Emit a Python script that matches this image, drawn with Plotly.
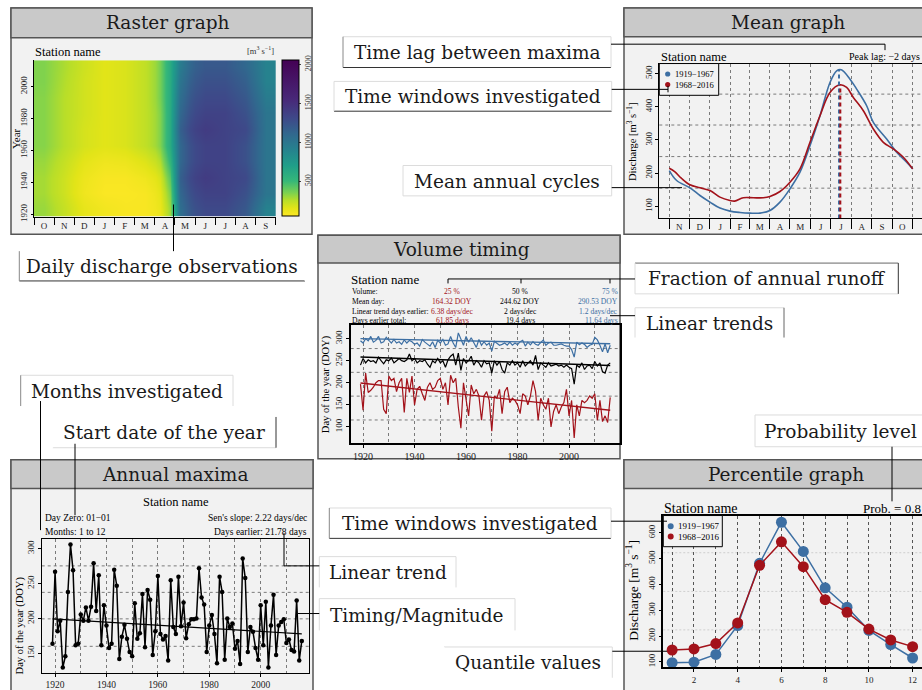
import plotly.graph_objects as go

W, H = 922, 690
SERIF = "Liberation Serif"
DEJAVU = "DejaVu Serif"
BLUE = "#3d6fa3"
RED = "#a3121a"

# ---------------- data ----------------
# Raster graph (hydrological year Oct-Sep), decade blocks, m3/s
raster_months = ["O", "N", "D", "J", "F", "M", "A", "M", "J", "J", "A", "S"]
raster_col_edges = [0, 1, 2, 3, 4, 5, 6, 6.5, 7, 7.5, 8, 9, 10, 11, 12]   # April and May split in halves
raster_year_edges = [1918.5, 1928.5, 1938.5, 1948.5, 1958.5, 1968.5, 1978.5, 1988.5, 1998.5, 2008.5, 2016.5]
raster_z = [
    [300, 220, 130, 90, 70, 70, 120, 300, 1050, 1200, 1300, 1300, 1200, 900],
    [280, 200, 100, 60, 60, 70, 140, 350, 1100, 1250, 1350, 1350, 1250, 1000],
    [280, 200, 110, 70, 70, 100, 180, 420, 1150, 1300, 1400, 1350, 1300, 1000],
    [300, 220, 140, 100, 110, 160, 260, 520, 1100, 1250, 1350, 1350, 1250, 1000],
    [330, 250, 180, 150, 170, 230, 340, 600, 1100, 1250, 1350, 1350, 1250, 1000],
    [330, 250, 180, 150, 170, 230, 340, 600, 1150, 1300, 1400, 1350, 1300, 1000],
    [330, 250, 190, 150, 170, 230, 340, 600, 1100, 1250, 1350, 1350, 1250, 1000],
    [330, 250, 190, 150, 170, 230, 360, 600, 1050, 1200, 1300, 1300, 1200, 950],
    [340, 260, 190, 150, 170, 230, 360, 600, 1000, 1150, 1250, 1250, 1150, 900],
    [340, 270, 200, 150, 170, 230, 360, 600, 950, 1100, 1200, 1200, 1100, 900],
]
raster_ticks = [1920, 1940, 1960, 1980, 2000]
colorbar_ticks = [500, 1000, 1500, 2000]

# Mean graph (day counted from 1 Nov)
mean_months = ["N", "D", "J", "F", "M", "A", "M", "J", "J", "A", "S", "O"]
month_lengths = [30, 31, 31, 28, 31, 30, 31, 30, 31, 31, 30, 31]
mean_days_early = [0, 11, 31, 46, 61, 76, 91, 106, 121, 136, 151, 166, 181, 196, 211, 226, 241, 251, 258, 271, 281, 296, 306, 326, 341, 356, 365]
mean_early = [208, 178, 156, 133, 113, 95, 86, 82, 80, 80, 88, 113, 153, 203, 283, 373, 473, 508, 511, 483, 453, 403, 353, 303, 263, 233, 213]
mean_days_late = [0, 8, 18, 31, 46, 61, 76, 91, 98, 111, 126, 141, 151, 166, 181, 196, 211, 226, 241, 256, 266, 276, 291, 306, 321, 336, 351, 365]
mean_late = [215, 205, 185, 165, 156, 148, 128, 118, 116, 126, 126, 126, 130, 145, 173, 213, 293, 373, 443, 466, 458, 428, 388, 333, 293, 273, 248, 213]
peak_days = [254.5, 256.5]
peak_values = [511, 466]
mean_hgrid = [155, 250, 345, 438]

# Volume timing (DOY), 1919-2016
vol_first_year = 1919
vol_25 = [197, 138, 222, 178, 183, 190, 200, 205, 205, 140,
          130, 215, 205, 210, 180, 200, 210, 133, 210, 178,
          215, 150, 185, 192, 175, 160, 190, 200, 185, 190,
          205, 210, 185, 200, 150, 217, 200, 210, 145, 97,
          200, 165, 125, 195, 175, 185, 170, 115, 170, 180,
          160, 90, 170, 165, 185, 130, 180, 190, 155, 165,
          160, 150, 130, 175, 170, 150, 170, 205, 180, 115,
          165, 150, 140, 165, 100, 135, 150, 130, 145, 155,
          185, 125, 160, 75, 150, 125, 160, 155, 160, 170,
          165, 175, 115, 160, 112, 125, 110, 167]
vol_50 = [240, 255, 245, 252, 248, 250, 245, 258, 250, 243,
          252, 250, 256, 245, 250, 255, 250, 248, 252, 265,
          250, 255, 245, 250, 248, 252, 242, 235, 250, 245,
          255, 245, 250, 235, 252, 260, 265, 240, 267, 228,
          255, 245, 250, 260, 240, 250, 245, 235, 250, 243,
          245, 222, 250, 240, 248, 230, 222, 245, 240, 250,
          240, 245, 235, 250, 238, 245, 250, 240, 262, 230,
          245, 240, 235, 245, 238, 240, 242, 238, 240, 235,
          240, 235, 232, 197, 240, 235, 245, 230, 238, 240,
          232, 248, 238, 245, 225, 222, 240, 245]
vol_75 = [295, 290, 300, 295, 305, 292, 296, 305, 290, 293,
          303, 297, 290, 298, 290, 293, 287, 297, 290, 296,
          293, 287, 290, 283, 298, 292, 287, 283, 293, 280,
          296, 290, 298, 285, 288, 305, 290, 280, 313, 300,
          285, 305, 292, 302, 290, 280, 298, 285, 293, 285,
          290, 272, 294, 290, 285, 287, 290, 285, 292, 285,
          290, 286, 293, 296, 283, 292, 286, 293, 287, 285,
          290, 297, 285, 290, 292, 285, 285, 287, 288, 285,
          283, 283, 275, 258, 292, 286, 290, 287, 280, 285,
          287, 303, 297, 285, 270, 288, 268, 285]
vol_trend_start = [199.5, 258.5, 300.0]      # DOY at first year
vol_trend_slope = [-0.638, -0.20, -0.12]    # days per year
vol_hgrid = [115.7, 169.7, 223.6, 277.5]
vol_table = [
    ["Volume:", "25 %", "50 %", "75 %"],
    ["Mean day:", "164.32 DOY", "244.62 DOY", "290.53 DOY"],
    ["Linear trend days earlier:", "6.38 days/dec", "2 days/dec", "1.2 days/dec"],
    ["Days earlier total:", "61.85 days", "19.4 days", "11.64 days"],
]

# Annual maxima (DOY), 1919-2016
amax_first_year = 1919
amax = [164, 267, 182, 197, 130, 146, 238, 306, 269, 162,
        164, 206, 197, 216, 197, 217, 279, 211, 262, 162,
        219, 190, 158, 164, 270, 247, 142, 174, 191, 171,
        152, 146, 222, 171, 179, 235, 159, 241, 227, 148,
        182, 261, 178, 170, 175, 140, 255, 188, 178, 260,
        189, 223, 172, 192, 199, 199, 200, 272, 230, 220,
        152, 190, 205, 178, 136, 260, 238, 141, 200, 188,
        193, 157, 168, 135, 286, 258, 152, 188, 181, 158,
        141, 219, 162, 224, 130, 190, 234, 148, 190, 195,
        199, 165, 170, 155, 153, 226, 140, 168]
amax_trend_start = 199.6
amax_trend_slope = -0.222
amax_hgrid = [160.3, 199.6, 237.5, 275.4]

# Percentile graph (prob 0.8), months 1-12
pct_months = list(range(1, 13))
pct_early = [97, 99, 129, 241, 482, 641, 528, 387, 312, 222, 167, 115]
pct_late = [146, 150, 171, 251, 474, 565, 469, 341, 292, 227, 185, 159]
pct_hgrid = [224, 373, 523]

period_labels = ["1919\u22121967", "1968\u22122016"]


# ---------------- helpers ----------------
def X(p):
    return p / W


def Y(p):
    return 1 - p / H


shapes = []
annotations = []


def rect(x0, y0, x1, y1, fill="rgba(0,0,0,0)", line="black", width=1, layer="below"):
    shapes.append(dict(type="rect", xref="paper", yref="paper", x0=X(x0), x1=X(x1), y0=Y(y1), y1=Y(y0),
                       fillcolor=fill, line=dict(color=line, width=width), layer=layer))


def seg(x0, y0, x1, y1, color="black", width=1, layer="above"):
    shapes.append(dict(type="line", xref="paper", yref="paper", x0=X(x0), x1=X(x1), y0=Y(y0), y1=Y(y1),
                       line=dict(color=color, width=width), layer=layer))


def dot(cx, cy, r, color):
    shapes.append(dict(type="circle", xref="paper", yref="paper", x0=X(cx - r), x1=X(cx + r), y0=Y(cy + r), y1=Y(cy - r),
                       fillcolor=color, line=dict(color=color, width=0), layer="above"))


def txt(x, y, s, size, color="black", xanchor="center", family=SERIF, angle=0):
    annotations.append(dict(x=X(x), y=Y(y), xref="paper", yref="paper", text=s, showarrow=False,
                            xanchor=xanchor, yanchor="middle", font=dict(family=family, size=size, color=color),
                            textangle=angle, borderpad=0))


# ---------------- panels ----------------
panels = [
    ("Raster graph", 11, 8, 312, 236, 38, 168, 23),
    ("Mean graph", 624, 8, 940, 236, 37, 788, 23),
    ("Volume timing", 318, 237, 620, 462, 265, 461, 251),
    ("Annual maxima", 11, 463, 313, 700, 492, 175, 478),
    ("Percentile graph", 624, 463, 940, 700, 492, 786, 478),
]
for title, x0, y0, x1, y1, hy, tx, ty in panels:
    rect(x0, y0, x1, y1, fill="#f2f2f2", line="#555555", width=1.5)
    rect(x0, y0, x1, hy, fill="#c9c9c9", line="#555555", width=1.5)
    txt(tx, ty, title, 18.5, color="#1a1a1a", family=DEJAVU)

# ---------------- figure ----------------
fig = go.Figure()

# Raster heatmap
vir = [[0.0, "#fde725"], [0.05, "#e2e418"], [0.10, "#b8de29"], [0.15, "#7ad151"], [0.225, "#35b779"],
       [0.325, "#1f9e89"], [0.425, "#26828e"], [0.525, "#31688e"], [0.625, "#3e4989"], [0.75, "#482878"],
       [1.0, "#440154"]]
fig.add_trace(go.Heatmap(
    z=raster_z, x=raster_col_edges, y=raster_year_edges,
    colorscale=vir, zmin=50, zmax=2050, zsmooth="best", xaxis="x", yaxis="y",
    colorbar=dict(x=X(281.5), xanchor="left", y=Y(139.5), yanchor="middle", len=157.6 / H, lenmode="fraction",
                  thickness=16.5, outlinewidth=1, outlinecolor="black", xpad=0, ypad=0,
                  tickvals=colorbar_ticks, tickangle=-90, ticks="outside", ticklen=2,
                  tickfont=dict(family=SERIF, size=8, color="#333")),
    showscale=True, hoverinfo="skip"))

# Mean graph
fig.add_trace(go.Scatter(x=mean_days_early, y=mean_early, mode="lines", line=dict(color=BLUE, width=1.6, shape="spline"),
                         xaxis="x2", yaxis="y2", showlegend=False))
fig.add_trace(go.Scatter(x=mean_days_late, y=mean_late, mode="lines", line=dict(color=RED, width=1.6, shape="spline"),
                         xaxis="x2", yaxis="y2", showlegend=False))
for d, v, c in zip(peak_days, peak_values, [BLUE, RED]):
    fig.add_trace(go.Scatter(x=[d, d], y=[64, v], mode="lines", line=dict(color=c, width=2, dash="4px,3px"),
                             xaxis="x2", yaxis="y2", showlegend=False))

# Volume timing
vol_years = [vol_first_year + i for i in range(len(vol_25))]
for series, c, a, b in zip([vol_25, vol_50, vol_75], [RED, "black", BLUE], vol_trend_start, vol_trend_slope):
    fig.add_trace(go.Scatter(x=vol_years, y=series, mode="lines", line=dict(color=c, width=1.2),
                             xaxis="x3", yaxis="y3", showlegend=False))
    fig.add_trace(go.Scatter(x=[vol_years[0], vol_years[-1]],
                             y=[a, a + b * (vol_years[-1] - vol_years[0])], mode="lines",
                             line=dict(color=c, width=1.4), xaxis="x3", yaxis="y3", showlegend=False))

# Annual maxima
amax_years = [amax_first_year + i for i in range(len(amax))]
fig.add_trace(go.Scatter(x=amax_years, y=amax, mode="lines+markers", line=dict(color="black", width=1.5),
                         marker=dict(color="black", size=4.5), xaxis="x4", yaxis="y4", showlegend=False))
fig.add_trace(go.Scatter(x=[amax_years[0], amax_years[-1]],
                         y=[amax_trend_start, amax_trend_start + amax_trend_slope * (amax_years[-1] - amax_years[0])],
                         mode="lines", line=dict(color="black", width=1.2), xaxis="x4", yaxis="y4", showlegend=False))

# Percentile graph
fig.add_trace(go.Scatter(x=pct_months, y=pct_early, mode="lines+markers", line=dict(color=BLUE, width=1.5),
                         marker=dict(color=BLUE, size=11), xaxis="x5", yaxis="y5", showlegend=False))
fig.add_trace(go.Scatter(x=pct_months, y=pct_late, mode="lines+markers", line=dict(color=RED, width=1.5),
                         marker=dict(color=RED, size=11), xaxis="x5", yaxis="y5", showlegend=False))

# ---------------- axes ----------------
GRID = "#7a7a7a"
DASH = "3px,3px"


def base_axis(**kw):
    d = dict(showgrid=False, zeroline=False, ticks="outside", ticklen=3, tickwidth=1, tickcolor="black",
             linecolor="black", tickfont=dict(family=SERIF, size=9, color="#222"), fixedrange=True)
    d.update(kw)
    return d


month_bounds = [0]
for L in month_lengths:
    month_bounds.append(month_bounds[-1] + L)
month_centers = [(month_bounds[i] + month_bounds[i + 1]) / 2 for i in range(12)]

layout_axes = dict(
    xaxis=base_axis(domain=[X(34), X(275.7)], anchor="y", range=[0, 12], tickmode="array",
                    tickvals=[i + 0.5 for i in range(12)], ticktext=raster_months, ticks="",
                    minor=dict(tickmode="array", tickvals=list(range(13)), ticks="outside", ticklen=7,
                               tickcolor="black"), showline=True),
    yaxis=base_axis(domain=[Y(218.3), Y(60.7)], anchor="x", range=[raster_year_edges[0], raster_year_edges[-1]],
                    tickmode="array", tickvals=raster_ticks, tickangle=-90, ticklen=2),
    xaxis2=base_axis(domain=[X(659.3), 1.0], anchor="y2", range=[-15, 379], tickmode="array",
                     tickvals=month_centers, ticktext=mean_months, ticks="",
                     minor=dict(tickmode="array", tickvals=month_bounds, ticks="outside", ticklen=10,
                                tickcolor="black", showgrid=True, gridcolor=GRID, griddash=DASH, gridwidth=1),
                     showline=True, mirror=True),
    yaxis2=base_axis(domain=[Y(220), Y(64)], anchor="x2", range=[64, 530], tickmode="array",
                     tickvals=[100, 200, 300, 400, 500], tickangle=-90, showline=True),
    xaxis3=base_axis(domain=[X(350.7), X(619.5)], anchor="y3", range=[1915.2, 2019.6], tick0=1920, dtick=20,
                     showgrid=True, gridcolor=GRID, griddash=DASH,
                     minor=dict(dtick=10, tick0=1920, showgrid=True, gridcolor=GRID, griddash=DASH, ticks=""),
                     showline=True, mirror=True, linewidth=1.5, tickfont=dict(family=SERIF, size=10, color="#222")),
    yaxis3=base_axis(domain=[Y(446.7), Y(327.3)], anchor="x3", range=[62.5, 331], tickmode="array",
                     tickvals=[100, 150, 200, 250, 300], tickangle=-90, showline=True, mirror=True, linewidth=1.5),
    xaxis4=base_axis(domain=[X(41.7), X(309)], anchor="y4", range=[1914.8, 2018.8], tick0=1920, dtick=20,
                     showgrid=True, gridcolor=GRID, griddash=DASH,
                     minor=dict(dtick=10, tick0=1920, showgrid=True, gridcolor=GRID, griddash=DASH, ticks=""),
                     showline=True, mirror=True, tickfont=dict(family=SERIF, size=9.5, color="#222")),
    yaxis4=base_axis(domain=[Y(678), Y(542.7)], anchor="x4", range=[122, 314.2], tickmode="array",
                     tickvals=[150, 200, 250, 300], tickangle=-90, showline=True, mirror=True),
    xaxis5=base_axis(domain=[X(663.3), 1.0], anchor="y5", range=[0.596, 12.43], tick0=2, dtick=2,
                     showgrid=True, gridcolor="#555", griddash=DASH,
                     minor=dict(dtick=1, tick0=1, showgrid=True, gridcolor="#555", griddash=DASH, ticks=""),
                     showline=True, mirror=True, linewidth=1.5),
    yaxis5=base_axis(domain=[Y(672.3), Y(519.3)], anchor="x5", range=[78.5, 667], tickmode="array",
                     tickvals=[100, 200, 300, 400, 500, 600], tickangle=-90, showline=True, linewidth=1.5),
)

# horizontal dashed grids
for ax, vals, col, dsh in (("2", mean_hgrid, GRID, DASH), ("3", vol_hgrid, GRID, DASH),
                           ("4", amax_hgrid, GRID, DASH), ("5", pct_hgrid, "#cfcfcf", "2px,2px")):
    for yv in vals:
        shapes.append(dict(type="line", xref="x%s domain" % ax, yref="y%s" % ax, x0=0, x1=1, y0=yv, y1=yv,
                           line=dict(color=col, width=1, dash=dsh), layer="below"))

# ---------------- panel texts ----------------
# Raster
txt(34, 52, "Station name", 12.5, xanchor="left")
txt(275, 51, "[m<sup>3</sup> s<sup>\u22121</sup>]", 8.5, xanchor="right", color="#333")
txt(16, 140, "Year", 11, angle=-90)
# Mean
txt(660, 57, "Station name", 12.5, xanchor="left")
txt(921, 57, "Peak lag: \u22122 days", 10, xanchor="right")
txt(632, 143, "Discharge [m<sup>3</sup> s<sup>\u22121</sup>]", 10.5, angle=-90)
rect(659.3, 64, 718.7, 96, fill="#f2f2f2", line="black", width=1, layer="above")
dot(667.7, 74.5, 2.6, BLUE)
dot(667.7, 85.2, 2.6, RED)
txt(674, 74.5, period_labels[0], 8.5, xanchor="left")
txt(674, 85.2, period_labels[1], 8.5, xanchor="left")
# Volume timing
txt(350, 282, "Station name", 13, xanchor="left")
row_y = [293.3, 303.3, 313.3, 322.5]
col_colors = [RED, "black", BLUE]
for r, row in enumerate(vol_table):
    txt(350.5, row_y[r], row[0], 7.6, xanchor="left")
    txt(452, row_y[r], row[1], 7.6, color=col_colors[0])
    txt(520, row_y[r], row[2], 7.6, color=col_colors[1])
    txt(618.5, row_y[r], row[3], 7.6, color=col_colors[2], xanchor="right")
txt(326, 387, "Day of the year (DOY)", 10.5, angle=-90)
# Annual maxima
txt(176, 506, "Station name", 12.5)
txt(44, 522, "Day Zero: 01\u221201", 9.5, xanchor="left")
txt(44, 536, "Months: 1 to 12", 9.5, xanchor="left")
txt(308, 522, "Sen's slope: 2.22 days/dec", 9.5, xanchor="right")
txt(308, 536, "Days earlier: 21.78 days", 9.5, xanchor="right")
txt(20, 630, "Day of the year (DOY)", 10.5, angle=-90)
# Percentile
txt(663, 512, "Station name", 14, xanchor="left")
txt(922, 512, "Prob. = 0.8", 13, xanchor="right")
txt(633, 595, "Discharge [m<sup>3</sup> s<sup>\u22121</sup>]", 13.5, angle=-90)
rect(663.3, 519.3, 722.3, 550.7, fill="#f2f2f2", line="black", width=1, layer="above")
dot(670.7, 530, 3, BLUE)
dot(670.7, 540.5, 3, RED)
txt(677, 530, period_labels[0], 9, xanchor="left")
txt(677, 540.5, period_labels[1], 9, xanchor="left")

# ---------------- callout boxes ----------------
LIGHT = "#dcdcdc"
callouts = [
    ("Time lag between maxima", 343, 37, 611, 68, {"b": "#333", "l": "#888"}),
    ("Time windows investigated", 334, 82, 611.7, 112, {"b": "#333"}),
    ("Mean annual cycles", 403, 166.7, 611.7, 197.3, {}),
    ("Daily discharge observations", 19.3, 253, 305, 283, {"b": "#333", "l": "#888", "t": "white", "r": "white"}),
    ("Fraction of annual runoff", 635, 265, 898.3, 296, {"t": "#666", "r": "#333"}),
    ("Linear trends", 635, 310, 784, 340, {"r": "#666", "b": "white"}),
    ("Months investigated", 20.7, 378, 233, 409, {"l": "#888", "b": "white"}),
    ("Start date of the year", 52.7, 420, 276, 451, {"r": "#333", "t": "white", "l": "white"}),
    ("Linear trend", 319.3, 560.7, 456, 591.7, {"b": "white"}),
    ("Timing/Magnitude", 319.3, 603, 515, 635, {"b": "white"}),
    ("Time windows investigated", 329.3, 511.7, 611, 542.3, {"b": "#333", "l": "#888"}),
    ("Quantile values", 444, 651.7, 612.3, 682.7, {"b": "white", "l": "white"}),
    ("Probability level", 755, 418, 925, 450, {}),
]
for label, x0, y0, x1, y1, sides in callouts:
    rect(x0, y0, x1, y1, fill="white", line="rgba(0,0,0,0)", width=0, layer="above")
    for side, (a0, b0, a1, b1) in {"t": (x0, y0, x1, y0), "b": (x0, y1, x1, y1),
                                    "l": (x0, y0, x0, y1), "r": (x1, y0, x1, y1)}.items():
        seg(a0, b0, a1, b1, color=sides.get(side, LIGHT), width=1)
    txt((x0 + x1) / 2, (y0 + y1) / 2 + 0.5, label, 18.5, color="#1a1a1a", family=DEJAVU)

# ---------------- connector lines ----------------
seg(611, 44.5, 885, 44.5)
seg(885, 44.5, 885, 50.5)
seg(611.7, 90, 668, 90)
seg(668, 86.5, 668, 93)
seg(611.7, 189, 682, 189)
seg(173.5, 206, 173.5, 253)
seg(448, 281, 635, 281)
for xt in (448, 521, 610):
    seg(xt, 281, xt, 285.5)
seg(610, 318, 635, 318)
seg(40.5, 404, 40.5, 534)
seg(75, 447, 75, 519)
seg(284, 537, 284, 570)
seg(284, 570, 319.3, 570)
seg(298, 618, 319.3, 618)
seg(611, 525, 667, 525)
seg(612.3, 656, 667, 656)
seg(892, 450, 892, 505)

fig.update_layout(
    width=W, height=H, margin=dict(l=0, r=0, t=0, b=0), autosize=False,
    paper_bgcolor="white", plot_bgcolor="rgba(0,0,0,0)",
    showlegend=False, shapes=shapes, annotations=annotations,
    font=dict(family=SERIF, color="black"),
    **layout_axes,
)

fig.write_html("out.html", config={"displayModeBar": False},
               post_script="document.body.style.margin='0';document.body.style.overflow='hidden';")
